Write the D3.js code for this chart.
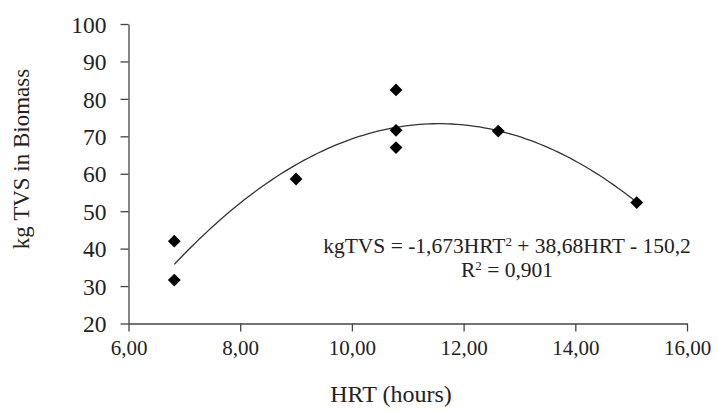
<!DOCTYPE html>
<html lang="en">
<head>
  <meta charset="UTF-8">
  <title>kg TVS in Biomass vs HRT</title>
  <script src="https://d3js.org/d3.v7.min.js"></script>
  <style>
    body { margin: 0; padding: 0; background: #fff; }
    svg { display: block; font-family: "Liberation Serif", "Times New Roman", serif; }
    .axis path, .axis line { stroke: #444; stroke-width: 1.3px; }
    .axis text { fill: #222; font-family: "Liberation Serif", serif; }
    .x-axis text { font-size: 21px; }
    .y-axis text { font-size: 23.5px; }
    .title { fill: #222; font-size: 24px; }
    .eq { fill: #222; font-size: 21.5px; }
  </style>
</head>
<body>
  <svg id="chart"></svg>

  <script>
    // observed points (HRT in hours, kg TVS)
    const hrt = [6.82, 6.82, 9.0, 10.79, 10.79, 10.79, 12.62, 15.1];
    const tvs = [42.0, 31.6, 58.6, 82.4, 71.6, 67.0, 71.4, 52.3];

    // fitted polynomial coefficients: a*x^2 + b*x + c
    const coef = [-1.673, 38.68, -150.2];

    const xTicks = [6, 8, 10, 12, 14, 16];
    const yTicks = [20, 30, 40, 50, 60, 70, 80, 90, 100];

    const width = 719, height = 410;
    const margin = { top: 24, right: 32, bottom: 86.5, left: 128.5 };

    const svg = d3.select('#chart').attr('width', width).attr('height', height);

    const x = d3.scaleLinear().domain([6, 16]).range([margin.left, width - margin.right]);
    const y = d3.scaleLinear().domain([20, 100]).range([height - margin.bottom, margin.top]);

    const fmt = d => d.toFixed(2).replace('.', ',');

    svg.append('g')
      .attr('class', 'axis x-axis')
      .attr('transform', `translate(0,${y(20)})`)
      .call(d3.axisBottom(x).tickValues(xTicks).tickFormat(fmt).tickSize(8).tickPadding(9).tickSizeOuter(0));

    svg.append('g')
      .attr('class', 'axis y-axis')
      .attr('transform', `translate(${x(6)},0)`)
      .call(d3.axisLeft(y).tickValues(yTicks).tickSize(8).tickPadding(14).tickSizeOuter(0))
      .selectAll('text').attr('dy', '0.35em');

    // trend curve
    const fit = v => coef[0] * v * v + coef[1] * v + coef[2];
    const x0 = d3.min(hrt), x1 = d3.max(hrt);
    const curvePts = d3.range(0, 101).map(i => {
      const v = x0 + (x1 - x0) * i / 100;
      return [v, fit(v)];
    });
    svg.append('path')
      .datum(curvePts)
      .attr('fill', 'none')
      .attr('stroke', '#333')
      .attr('stroke-width', 1.3)
      .attr('d', d3.line().x(d => x(d[0])).y(d => y(d[1])));

    // markers
    const diamond = d3.symbol().type(d3.symbolSquare).size(82);
    svg.selectAll('.pt')
      .data(hrt.map((h, i) => [h, tvs[i]]))
      .enter().append('path')
      .attr('class', 'pt')
      .attr('d', diamond)
      .attr('fill', '#000')
      .attr('transform', d => `translate(${x(d[0])},${y(d[1])}) rotate(45)`);

    // equation
    const eq = svg.append('text').attr('class', 'eq').attr('x', 507).attr('y', 253).attr('text-anchor', 'middle');
    eq.append('tspan').text('kgTVS = -1,673HRT');
    eq.append('tspan').attr('dy', -7).attr('font-size', 13).text('2');
    eq.append('tspan').attr('dy', 7).text(' + 38,68HRT - 150,2');

    const r2 = svg.append('text').attr('class', 'eq').attr('x', 507).attr('y', 277).attr('text-anchor', 'middle');
    r2.append('tspan').text('R');
    r2.append('tspan').attr('dy', -7).attr('font-size', 13).text('2');
    r2.append('tspan').attr('dy', 7).text(' = 0,901');

    // axis titles
    svg.append('text').attr('class', 'title')
      .attr('x', 391).attr('y', 402).attr('text-anchor', 'middle')
      .text('HRT (hours)');

    svg.append('text').attr('class', 'title')
      .attr('transform', 'translate(29,159) rotate(-90)')
      .attr('text-anchor', 'middle')
      .style('font-size', '23px')
      .text('kg TVS in Biomass');
  </script>
</body>
</html>
